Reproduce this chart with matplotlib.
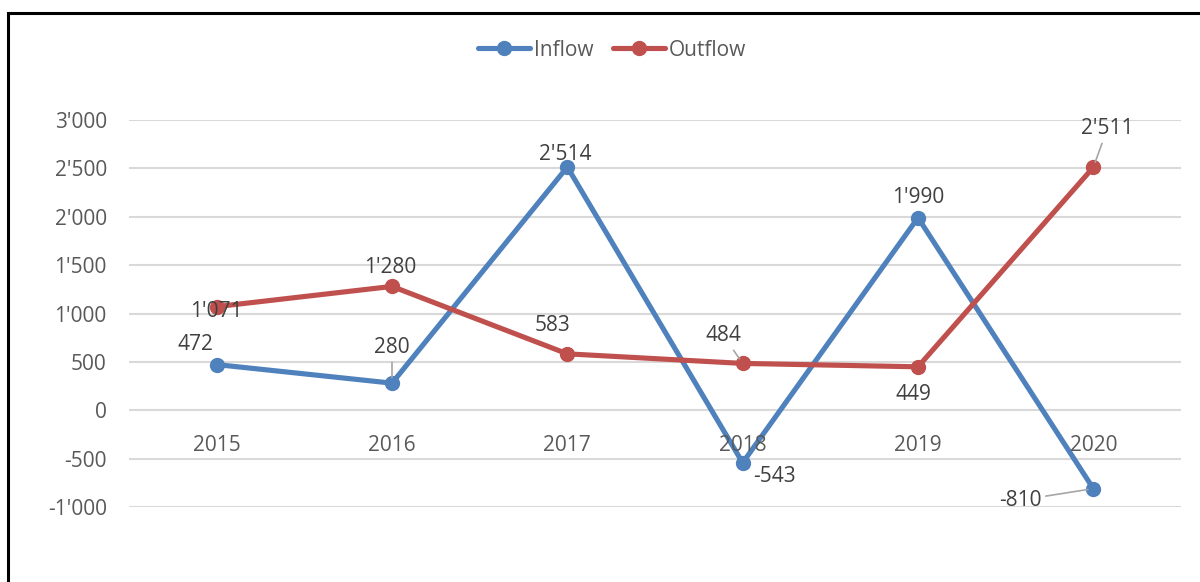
import matplotlib.pyplot as plt
from matplotlib.patches import Rectangle

years = ["2015", "2016", "2017", "2018", "2019", "2020"]
inflow = [472, 280, 2514, -543, 1990, -810]
outflow = [1071, 1280, 583, 484, 449, 2511]
y_ticks = [-1000, -500, 0, 500, 1000, 1500, 2000, 2500, 3000]

# label offsets in pixels (dx, dy) and whether a leader line is drawn
inflow_offsets = [(-21, 15), (0, 30, True), (-2, 7), (32, -19), (0, 15), (-73, -17, True)]
outflow_offsets = [(0, -10), (-2, 13), (-15, 23), (-19, 22, True), (-5, -33), (14, 33, True)]

BLUE = "#4F81BD"
RED = "#C0504D"
GREY_TXT = "#595959"
LABEL_TXT = "#404040"

plt.rcParams["font.family"] = ["Open Sans", "DejaVu Sans"]
FS = 15

def fmt(v):
    return f"{v:,.0f}".replace(",", "'")

fig = plt.figure(figsize=(12, 5.82), dpi=100)
ax = fig.add_axes([129 / 1200, 1 - 507 / 582, 1052 / 1200, 387 / 582])

x = list(range(len(years)))
ax.plot(x, inflow, color=BLUE, lw=3.7, marker="o", ms=10, label="Inflow",
        solid_capstyle="round", clip_on=False, zorder=3)
ax.plot(x, outflow, color=RED, lw=3.7, marker="o", ms=10, label="Outflow",
        solid_capstyle="round", clip_on=False, zorder=3)

ax.set_xlim(-0.5, len(years) - 0.5)
ax.set_ylim(-1000, 3000)
ax.set_yticks(y_ticks)
ax.set_yticklabels([fmt(v) for v in y_ticks], fontsize=FS, color=GREY_TXT)
ax.tick_params(axis="y", length=0, pad=16)
ax.set_xticks([])
ax.grid(axis="y", color="#d9d9d9", lw=1.5)
ax.set_axisbelow(True)
for s in ax.spines.values():
    s.set_visible(False)

# category labels sit just under the zero line
for i, yr in enumerate(years):
    ax.annotate(yr, (i, 0), xytext=(0, -41), textcoords="offset pixels",
                ha="center", va="baseline", fontsize=FS, color=GREY_TXT)

def label_series(values, offsets):
    for i, (v, off) in enumerate(zip(values, offsets)):
        dx, dy = off[0], off[1]
        leader = len(off) > 2
        props = None
        if leader:
            props = dict(arrowstyle="-", color="#a6a6a6", lw=1.2, shrinkA=1, shrinkB=4)
        ax.annotate(fmt(v), (i, v), xytext=(dx, dy), textcoords="offset pixels",
                    ha="center", va="baseline", fontsize=FS, color=LABEL_TXT,
                    arrowprops=props, zorder=4)

label_series(inflow, inflow_offsets)
label_series(outflow, outflow_offsets)

fig.legend(loc="center", bbox_to_anchor=(612 / 1200, 1 - 50 / 582), ncol=2,
           frameon=False, fontsize=FS, labelcolor=GREY_TXT, handlelength=2.5,
           handletextpad=0.2, columnspacing=0.9)

# chart area border (left and top edges visible)
fig.patches.append(Rectangle((8 / 1200, -0.1), 1.2, 1.1 - 13 / 582 + 0.0,
                             transform=fig.transFigure, fill=False,
                             ec="black", lw=2.2))

fig.savefig("out.png", dpi=100)
